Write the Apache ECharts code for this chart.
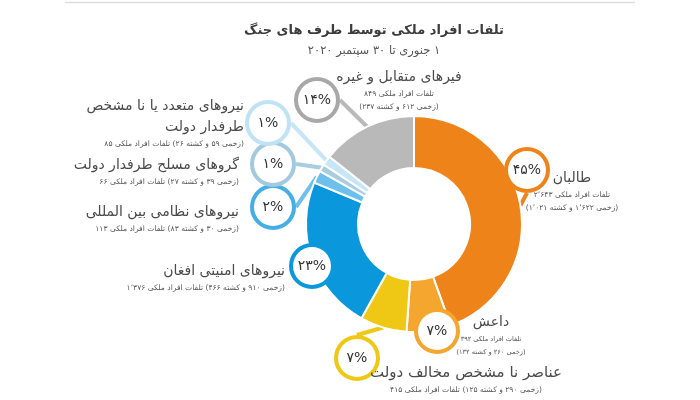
<!DOCTYPE html>
<html><head><meta charset="utf-8">
<script src="https://cdn.jsdelivr.net/npm/echarts@6/dist/echarts.min.js"></script>
<style>html,body{margin:0;padding:0;background:#fff}#c{width:700px;height:400px}</style>
</head><body><div id="c" dir="rtl"></div>
<script>
// ---- data ----
const categories = ['طالبان','داعش','عناصر نا مشخص مخالف دولت','نیروهای امنیتی افغان','نیروهای نظامی بین المللی','گروهای مسلح طرفدار دولت','نیروهای متعدد یا نا مشخص طرفدار دولت','فیرهای متقابل و غیره'];
const casualties = [2643, 392, 415, 1376, 113, 66, 85, 849];
const injured = [1622, 260, 290, 910, 30, 39, 59, 612];
const killed = [1021, 132, 125, 466, 83, 27, 26, 237];
const titleText = 'تلفات افراد ملکی توسط طرف های جنگ';
const subtitleText = '۱ جنوری تا ۳۰ سپتمبر ۲۰۲۰';

// ---- styles / layout ----
const FONT = 'DejaVu Sans';
const CX = 414, CY = 224;
const sliceColors = ['#EE8419','#F5A62F','#EFC815','#0B97DC','#6DC0EC','#A8CDE3','#C6E6F7','#B9B9B9'];
const badgeColors = ['#EE8419','#F5A62F','#EFC815','#0B97DC','#45AEE6','#A3C9DF','#BFE2F5','#A8A8A8'];
// badge offsets from the pie centre
const badgePos = [[113,-54],[23,107],[-57,134],[-102,42],[-141,-17],[-141,-60],[-146,-101],[-97,-124]];
// text block anchor offsets from the pie centre and alignment
const textPos = [[158,-33,'center'],[77,111,'center'],[52,156,'center'],[-129,54,'right'],[-175,-5,'right'],[-175,-52,'right'],[-170,-101,'right'],[-15,-134,'center']];
const twoLineSub = [true,true,false,false,false,false,false,true];
const nameStyle = ['n','n','nL','n','n','n','n','n'];
const subStyle = ['s','sS','s','s','s','s','s','s'];
const wrapName = [false,false,false,false,false,false,true,false];

const total = casualties.reduce((a,b)=>a+b,0);
const fa = n => String(n).replace(/\d/g, d => '۰۱۲۳۴۵۶۷۸۹'[d]);
const faNum = n => fa(n.toLocaleString('en-US')).replace(/,/g,'٬');

function nameLines(i){
  const st = nameStyle[i];
  const name = categories[i];
  if (wrapName[i]) {
    const w = name.split(' ');
    return ['{'+st+'|'+w.slice(0, w.length-2).join(' ')+'}', '{'+st+'|'+w.slice(w.length-2).join(' ')+'}'];
  }
  return ['{'+st+'|'+name+'}'];
}
function subLines(i){
  const st = subStyle[i];
  const a = 'تلفات افراد ملکی ' + faNum(casualties[i]);
  const b = '(زخمی ' + faNum(injured[i]) + ' و کشته ' + faNum(killed[i]) + ')';
  return twoLineSub[i] ? ['{'+st+'|'+a+'}','{'+st+'|'+b+'}'] : ['{'+st+'|'+b+' '+a+'}'];
}

const badgeRich = {};
badgeColors.forEach((c,i)=>{
  badgeRich['b'+i] = {width:38,height:38,lineHeight:38,borderRadius:19,borderWidth:4,borderColor:c,
    backgroundColor:'#fff',align:'center',verticalAlign:'middle',fontSize:14,color:'#333',fontFamily:FONT};
});

const pieData = categories.map((name,i)=>({name, value: casualties[i], itemStyle:{color: sliceColors[i]}}));
const ghostData = categories.map((name,i)=>({name, value: casualties[i]}));

const chart = echarts.init(document.getElementById('c'));
chart.setOption({
  backgroundColor:'#fff',
  animation:false,
  title:{
    text:titleText, subtext:subtitleText, left:369, textAlign:'center', top:19, itemGap:8,
    textStyle:{fontFamily:FONT,fontSize:13,fontWeight:'bold',color:'#3c3c3c'},
    subtextStyle:{fontFamily:FONT,fontSize:11.5,color:'#555'}
  },
  graphic:[{type:'line',shape:{x1:65,y1:2.5,x2:635,y2:2.5},style:{stroke:'#dedede',lineWidth:1.5},silent:true}],
  series:[
    {
      type:'pie', center:[CX,CY], radius:[56,108], startAngle:90, clockwise:true,
      avoidLabelOverlap:false, silent:true,
      itemStyle:{borderColor:'#fff',borderWidth:2},
      label:{show:true,position:'outside',
        formatter:p=>'{b'+p.dataIndex+'|'+fa(Math.round(p.value/total*100))+'%}',
        rich:badgeRich},
      labelLine:{show:true,length:10,length2:0,lineStyle:{width:4}},
      labelLayout:p=>({x:CX+badgePos[p.dataIndex][0], y:CY+badgePos[p.dataIndex][1], align:'center', verticalAlign:'middle'}),
      data:pieData
    },
    {
      type:'pie', center:[CX,CY], radius:[56,108], startAngle:90, clockwise:true,
      avoidLabelOverlap:false, silent:true,
      itemStyle:{color:'rgba(0,0,0,0)'},
      label:{show:true,position:'outside',
        formatter:p=>nameLines(p.dataIndex).concat(subLines(p.dataIndex)).join('\n'),
        rich:{
          n:{fontFamily:FONT,fontSize:14,lineHeight:21,color:'#4a4a4a'},
          nL:{fontFamily:FONT,fontSize:15,lineHeight:21,color:'#4a4a4a'},
          s:{fontFamily:FONT,fontSize:7.6,lineHeight:13,color:'#555'},
          sS:{fontFamily:FONT,fontSize:6.6,lineHeight:13,color:'#555'}
        }},
      labelLine:{show:false},
      labelLayout:p=>({x:CX+textPos[p.dataIndex][0], y:CY+textPos[p.dataIndex][1], align:textPos[p.dataIndex][2], verticalAlign:'middle'}),
      data:ghostData
    }
  ]
});
</script></body></html>
